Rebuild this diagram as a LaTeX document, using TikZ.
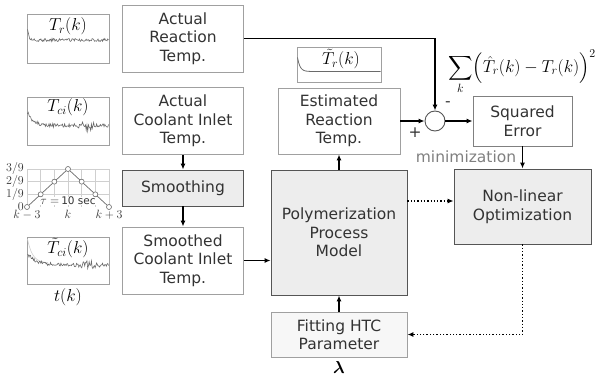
\documentclass[tikz,border=0pt]{standalone}
\usepackage{amsmath,amssymb}
\usepackage{fontspec}
\newfontfamily\boxfont{DejaVu Sans}
\usetikzlibrary{arrows.meta, calc}
\definecolor{boxline}{HTML}{A0A0A0}
\definecolor{darkline}{HTML}{555555}
\definecolor{boxfill}{HTML}{EDEDED}
\definecolor{txt}{HTML}{333333}
\definecolor{sigline}{HTML}{6A6A6A}
\definecolor{gridline}{HTML}{CFCFCF}

\begin{document}
\begin{tikzpicture}[x=1pt, y=-1pt, font=\boxfont\fontsize{15.5}{18.5}\selectfont,
    blk/.style={draw=boxline, fill=white, text=txt, align=center, inner sep=2pt, line width=0.9pt},
    gblk/.style={blk, draw=darkline, fill=boxfill},
    arr/.style={-{Latex[length=6pt,width=5pt]}, line width=1.3pt},
    dotarr/.style={arr, dotted, line width=1.3pt},
    frm/.style={draw=boxline, line width=0.7pt, minimum width=82pt, inner sep=0pt},
    sig/.style={sigline, line width=0.6pt},
    mlab/.style={font=\fontsize{17}{19}\selectfont, inner sep=1pt},
    tick/.style={font=\fontsize{12}{13}\selectfont, text=txt, inner sep=1pt},
    pt/.style={circle, draw=sigline, fill=white, minimum size=5pt, inner sep=0pt, line width=0.6pt}]
    \useasboundingbox (0,0) rectangle (597,377);
    \pgfmathsetseed{7}

    \node[blk, minimum width=121pt, minimum height=67pt] (act) at (183,38.5) {Actual\\Reaction\\Temp.};
    \node[blk, minimum width=121pt, minimum height=67pt] (cool) at (183,121) {Actual\\Coolant Inlet\\Temp.};
    \node[gblk, minimum width=121pt, minimum height=36pt] (smooth) at (183,188) {Smoothing};
    \node[blk, minimum width=121pt, minimum height=67pt] (smd) at (183,260.5) {Smoothed\\Coolant Inlet\\Temp.};
    \node[blk, minimum width=122pt, minimum height=66pt] (est) at (339,121) {Estimated\\Reaction\\Temp.};
    \node[gblk, minimum width=136pt, minimum height=125pt] (poly) at (339,232.5) {Polymerization\\Process\\Model};
    \node[blk, fill=white!97!black, minimum width=136pt, minimum height=45pt] (fit) at (339,334.5) {Fitting HTC\\Parameter};
    \node[blk, draw=gray, minimum width=99pt, minimum height=50pt] (sq) at (522.5,121) {Squared\\Error};
    \node[gblk, minimum width=137pt, minimum height=75pt] (nlo) at (522.5,206.5) {Non-linear\\Optimization};
    \node[circle, draw=darkline, fill=white, minimum size=20pt, inner sep=0pt, line width=0.9pt] (sum) at (435,121) {};

    \node[text=txt, inner sep=1pt] (minus) at (448,104) {-};
    \node[text=txt, inner sep=1pt] (plus) at (415,133) {+};
    \node[text=gray] (minlab) at (466,157) {minimization};
    \node[font=\fontsize{17}{20}\selectfont, inner sep=0pt] (cost) at (522,72)
        {$\displaystyle\sum_k \Bigl(\hat{T}_r(k)-T_r(k)\Bigr)^2$};
    \node[font=\fontsize{17}{19}\selectfont, inner sep=0pt] (lam) at (339,367) {$\boldsymbol{\lambda}$};

    \draw[arr] (act.east) -| (sum.north);
    \draw[arr] (est.east) -- (sum.west);
    \draw[arr] (sum.east) -- (sq.west);
    \draw[arr] (sq.south) -- (nlo.north);
    \draw[arr] (cool.south) -- (smooth.north);
    \draw[arr] (smooth.south) -- (smd.north);
    \draw[arr] (smd.east) -- (smd.east -| poly.west);
    \draw[arr] (poly.north) -- (est.south);
    \draw[arr] (fit.north) -- (poly.south);
    \draw[dotarr] ([yshift=5.5pt]nlo.west -| poly.east) -- ([yshift=5.5pt]nlo.west);
    \draw[dotarr] (nlo.south) |- (fit.east);

    \node[frm, minimum height=49pt] (trbox) at (68,38.5) {};
    \draw[sig] plot[domain=27.5:108.5, samples=110] (\x, {40 - 11*exp(-(\x-27.5)/1.5) + 1.5*rand});
    \node[mlab] (trlab) at (68,26.5) {$T_r(k)$};

    \node[frm, minimum height=48pt] (tcibox) at (68,121) {};
    \draw[sig] plot[domain=27.5:108.5, samples=110]
        (\x, {125.5 - 13*exp(-(\x-27.5)/6) + (1.8+5*exp(0-((\x-87)/6)*((\x-87)/6)))*rand});
    \node[mlab] (tcilab) at (68,107.5) {$T_{ci}(k)$};

    \node[frm, minimum height=47pt] (tsbox) at (68,260.5) {};
    \draw[gridline, line width=0.6pt] plot[domain=27.5:48, samples=30] (\x, {263 - 24*exp(-(\x-27.5)/5)});
    \draw[sig] plot[domain=27.5:108.5, samples=110]
        (\x, {265 - 11*exp(-(\x-27.5)/9) + (1.8+3.5*exp(0-((\x-88)/7)*((\x-88)/7)))*rand});
    \node[mlab] (tslab) at (68,248) {$\tilde{T}_{ci}(k)$};
    \node[mlab] (tlab) at (68,297) {$t(k)$};

    \node[frm, minimum width=84pt, minimum height=35pt] (erbox) at (339,64.5) {};
    \draw[sig, line width=0.8pt] plot[domain=297.5:380.5, samples=80] (\x, {71.5 - 14*exp(-(\x-297.5)/2.5)});
    \node[mlab] (erlab) at (341,59) {$\tilde{T}_r(k)$};

    \foreach \i in {0,...,6}
        \draw[gridline, line width=0.5pt] (27+\i*13.667,169) -- (27+\i*13.667,207);
    \foreach \j in {1,2,3}
        \draw[gridline, line width=0.5pt] (27,207-\j*12.667) -- (109,207-\j*12.667);
    \foreach \j/\t in {0/0, 1/1\slash 9, 2/2\slash 9, 3/3\slash 9}
        \node[tick, anchor=east] (yt\j) at (25,207-\j*12.667) {\t};
    \node[tick, fill=white, inner sep=0.5pt] (taulab) at (68,201) {$\tau=$\,\boxfont\fontsize{10.5}{12}\selectfont 10 sec};
    \foreach \i/\v in {0/0, 1/1, 2/2, 3/3, 4/2, 5/1, 6/0}
        \coordinate (c\i) at (27+\i*13.667,207-\v*12.667);
    \draw[sigline, line width=0.7pt] (c0) -- (c1) -- (c2) -- (c3) -- (c4) -- (c5) -- (c6);
    \foreach \i in {0,...,6}
        \node[pt] (p\i) at (c\i) {};
    \node[tick, anchor=north] (k0) at (27,209) {$k-3$};
    \node[tick, anchor=north] (k3) at (68,209) {$k$};
    \node[tick, anchor=north] (k6) at (109,209) {$k+3$};
\end{tikzpicture}
\end{document}
